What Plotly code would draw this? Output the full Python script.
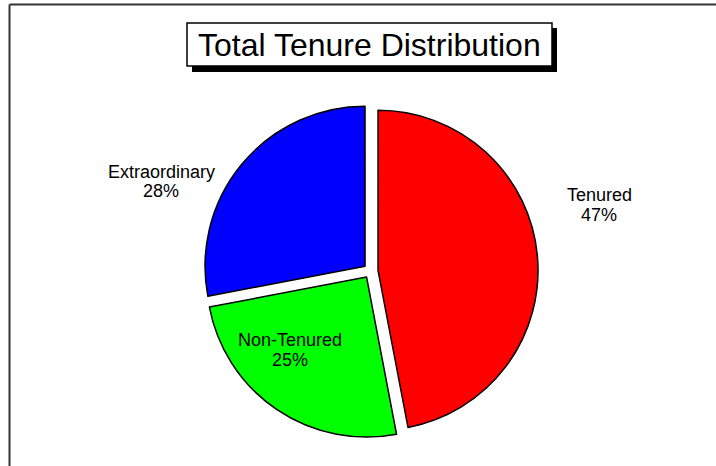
import plotly.graph_objects as go

# ---- data ----
labels = ["Tenured", "Non-Tenured", "Extraordinary"]
values = [47, 25, 28]
title_text = "Total Tenure Distribution"

# ---- styling / layout ----
W, H = 716, 466
colors = ["#FF0000", "#00FF00", "#0000FF"]
pulls = [0.046, 0.046, 0.046]
# label block positions (px): (x centre, y of first line, y of second line)
label_px = {
    "Tenured": (599, 195, 215),
    "Non-Tenured": (290, 340, 360),
    "Extraordinary": (161, 171.5, 190.5),
}


def fx(x):
    return x / W


def fy(y):
    return 1 - y / H


cx, cy, r = 370.7, 271.0, 160.0
half = r * (1 + max(pulls))

fig = go.Figure()
fig.add_trace(go.Pie(
    labels=labels,
    values=values,
    sort=False,
    direction="clockwise",
    rotation=0,
    pull=pulls,
    marker=dict(colors=colors, line=dict(color="black", width=1.5)),
    textinfo="none",
    hoverinfo="label+percent",
    showlegend=False,
    domain=dict(x=[fx(cx - half), fx(cx + half)], y=[fy(cy + half), fy(cy - half)]),
))

total = sum(values)
lab_font = dict(family="Liberation Sans, Arial, sans-serif", size=18, color="black")
for lab, val in zip(labels, values):
    x, y1, y2 = label_px[lab]
    fig.add_annotation(x=fx(x), y=fy(y1), xref="paper", yref="paper", text=lab,
                       showarrow=False, xanchor="center", yanchor="middle", font=lab_font)
    fig.add_annotation(x=fx(x), y=fy(y2), xref="paper", yref="paper",
                       text=f"{round(100 * val / total)}%",
                       showarrow=False, xanchor="center", yanchor="middle", font=lab_font)

shapes = []
# frame lines (top and left)
shapes.append(dict(type="line", xref="paper", yref="paper", x0=fx(9.5), y0=fy(4.5), x1=fx(720), y1=fy(4.5),
                   line=dict(color="#333333", width=2)))
shapes.append(dict(type="line", xref="paper", yref="paper", x0=fx(9.5), y0=fy(4.5), x1=fx(9.5), y1=fy(470),
                   line=dict(color="#333333", width=2)))
# title shadow and box
shapes.append(dict(type="rect", xref="paper", yref="paper", x0=fx(192), y0=fy(72), x1=fx(557), y1=fy(28),
                   fillcolor="black", line=dict(width=0)))
shapes.append(dict(type="rect", xref="paper", yref="paper", x0=fx(187), y0=fy(66), x1=fx(552), y1=fy(23),
                   fillcolor="white", line=dict(color="black", width=1.5)))

fig.add_annotation(x=fx(369), y=fy(45), xref="paper", yref="paper", text=title_text,
                   showarrow=False, xanchor="center", yanchor="middle",
                   font=dict(family="Liberation Sans, Arial, sans-serif", size=32, color="black"))

fig.update_layout(
    width=W, height=H,
    margin=dict(l=0, r=0, t=0, b=0),
    paper_bgcolor="white",
    plot_bgcolor="white",
    showlegend=False,
    shapes=shapes,
)

fig.write_html("out.html", config={"displayModeBar": False},
               post_script="document.body.style.margin='0';")
